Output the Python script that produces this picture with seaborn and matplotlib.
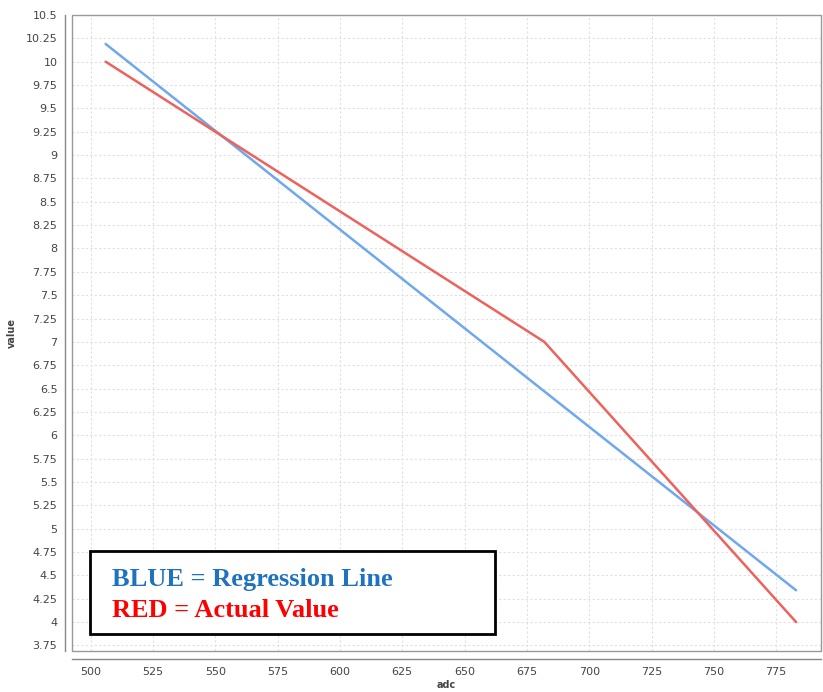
import matplotlib
matplotlib.use("Agg")
import matplotlib.pyplot as plt
import seaborn as sns
import pandas as pd
from matplotlib.patches import Rectangle

# values
adc = [506, 682, 783]
actual = [10.0, 7.0, 4.0]
regression = [10.19, 6.47, 4.34]
x_ticks = [500, 525, 550, 575, 600, 625, 650, 675, 700, 725, 750, 775]
y_ticks = [3.75 + 0.25 * i for i in range(28)]

df = pd.DataFrame({"adc": adc, "actual": actual, "regression": regression})

sns.set_style("white")
plt.rcParams["font.family"] = ["DejaVu Sans"]

fig = plt.figure(figsize=(8.23, 6.92), dpi=100)
ax = fig.add_axes([72 / 823, 1 - 651 / 692, 749 / 823, 636 / 692])

sns.lineplot(data=df, x="adc", y="regression", color="#6fa8ee", linewidth=1.8, ax=ax)
sns.lineplot(data=df, x="adc", y="actual", color="#ee625c", linewidth=1.8, ax=ax)

ax.set_xlim(492.5, 793)
ax.set_ylim(3.69, 10.5)
ax.set_xticks(x_ticks)
ax.set_yticks(y_ticks)
ax.set_yticklabels([f"{v:g}" for v in y_ticks])
ax.tick_params(labelsize=8, colors="#444444", length=3, width=0.8, direction="out",
               labelcolor="#444444", pad=2.5)
ax.grid(True, color="#e0e0e0", linestyle=(0, (2, 2)), linewidth=0.8)

for side in ["top", "right"]:
    ax.spines[side].set_visible(False)
ax.spines["left"].set_position(("outward", 5))
ax.spines["bottom"].set_position(("outward", 6))
for side in ["left", "bottom"]:
    ax.spines[side].set_color("#888888")
    ax.spines[side].set_linewidth(1.0)
ax.add_patch(Rectangle((0, 0), 1, 1, transform=ax.transAxes, fill=False,
                       edgecolor="#999999", linewidth=1.0, clip_on=False, zorder=5))

ax.set_xlabel("adc", fontsize=7, fontweight="bold", color="#444444", labelpad=2)
ax.set_ylabel("value", fontsize=7, fontweight="bold", color="#444444", labelpad=6)

# legend box drawn as annotation
fig.add_artist(Rectangle((90 / 823, 1 - 634 / 692), 405 / 823, 83 / 692,
                         transform=fig.transFigure, facecolor="white",
                         edgecolor="black", linewidth=2, zorder=10))
fig.text(112 / 823, 1 - 586 / 692, "BLUE = Regression Line", color="#1f72c0",
         fontsize=19, fontweight="bold", family="Liberation Serif", zorder=11)
fig.text(112 / 823, 1 - 617 / 692, "RED = Actual Value", color="#ff0000",
         fontsize=19, fontweight="bold", family="Liberation Serif", zorder=11)

fig.savefig("out.png", dpi=100)
